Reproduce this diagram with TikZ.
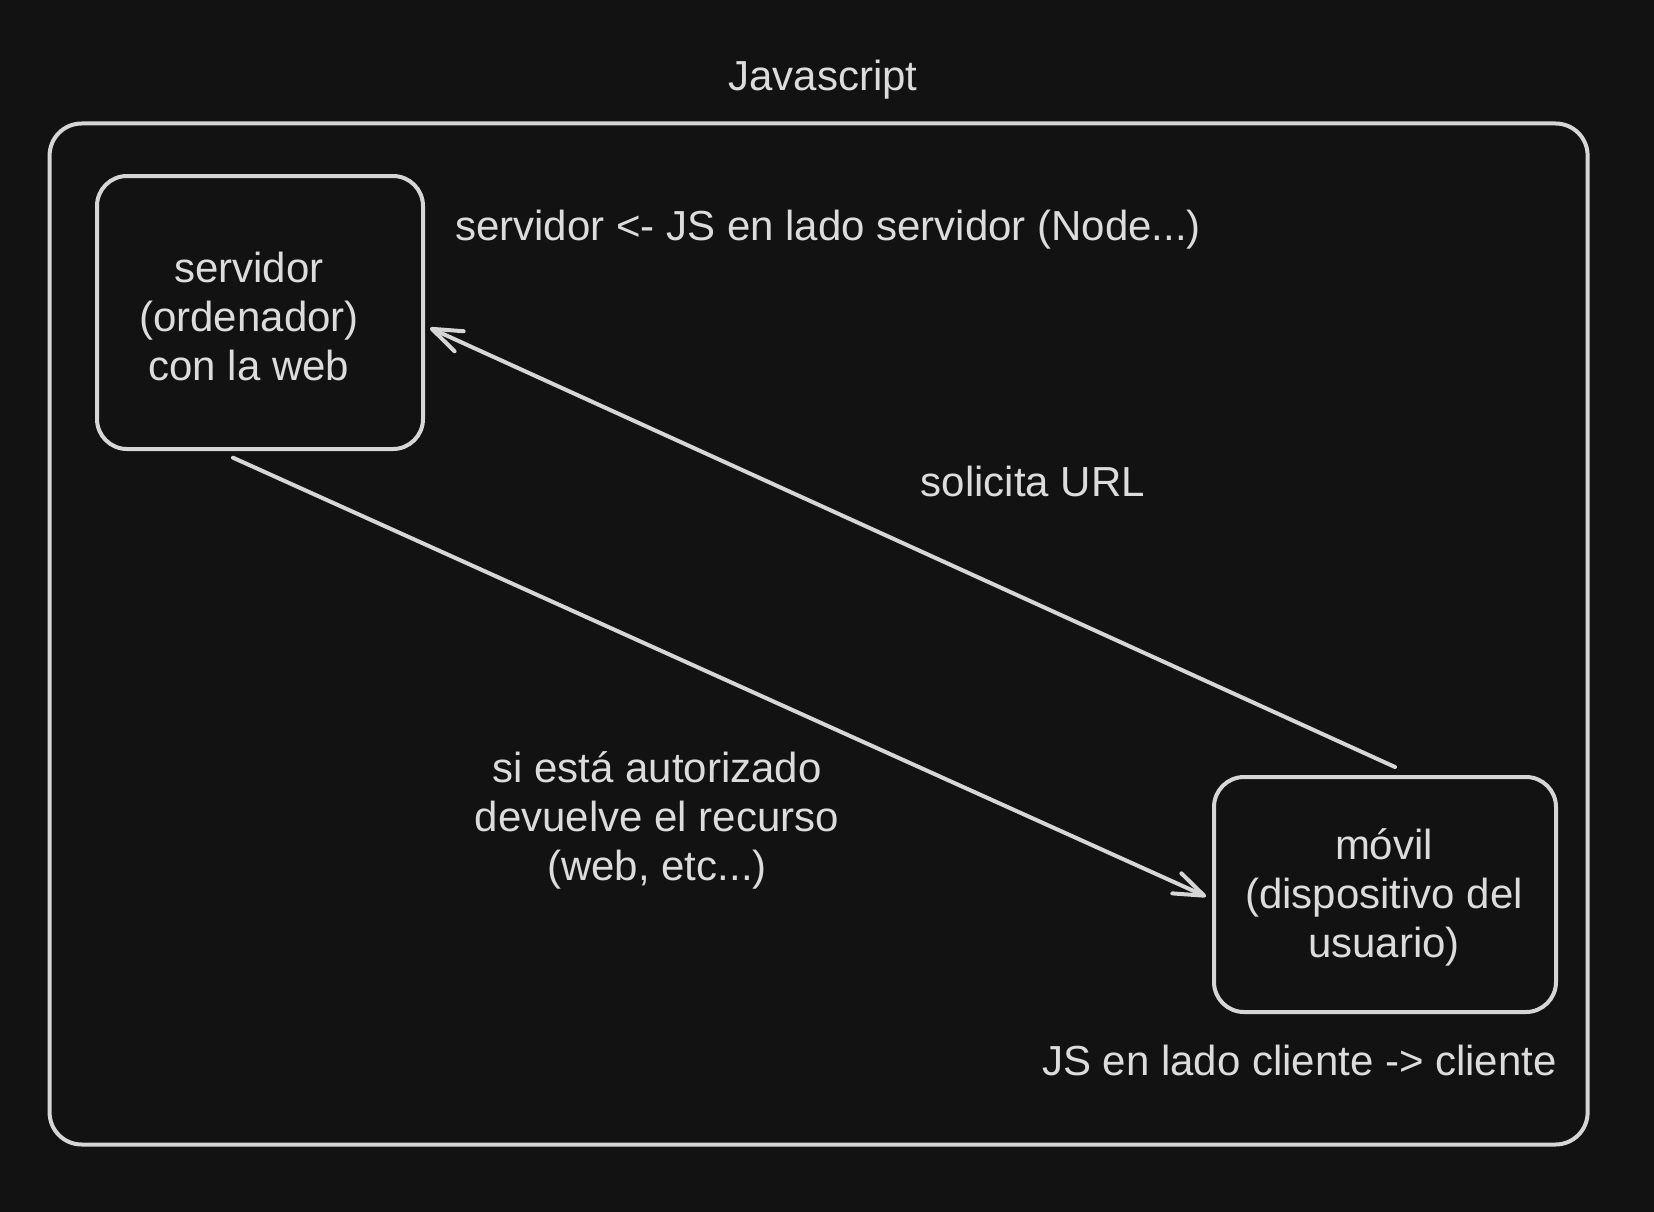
\documentclass[tikz,border=0pt]{standalone}
\usepackage{fontspec}
\setmainfont{Liberation Sans}
\usetikzlibrary{arrows.meta,calc}
\definecolor{bgc}{HTML}{121212}
\definecolor{fgc}{HTML}{D6D6D6}
\definecolor{txc}{HTML}{DCDCDC}
\tikzset{
  lbl/.style={text=txc, inner sep=0pt, align=center, font={\fontsize{42}{49}\selectfont}},
  boxn/.style={draw=fgc, line width=4pt, rounded corners=30pt, inner sep=0pt},
  conn/.style={draw=fgc, line width=4pt, line cap=round, -{Straight Barb[length=30pt,width=22pt,line width=4pt,round]}},
}
\begin{document}
\begin{tikzpicture}[x=1pt,y=-1pt]
\fill[bgc] (0,0) rectangle (1654,1212);
\useasboundingbox (0,0) rectangle (1654,1212);
\node[boxn, minimum width=1538pt, minimum height=1021pt, rounded corners=32pt] (frame) at (818.6,634) {};
\node[lbl] (title) at (823,80) {Javascript};
\node[boxn, minimum width=326pt, minimum height=273pt] (server) at (260,312.5) {};
\node[lbl] (servertext) at (249,316) {servidor\\(ordenador)\\con la web};
\node[boxn, minimum width=342pt, minimum height=235pt] (mobile) at (1385,894.5) {};
\node[lbl] (mobiletext) at (1384,897.5) {móvil\\(dispositivo del\\usuario)};
\node[lbl, anchor=west] (srvnote) at (455,230) {servidor <- JS en lado servidor (Node...)};
\node[lbl] (req) at (1033,481) {solicita URL};
\node[lbl] (resp) at (657,820) {si está autorizado\\devuelve el recurso\\(web, etc...)};
\node[lbl, anchor=east] (clinote) at (1557,1060) {JS en lado cliente -> cliente};
\draw[conn] ([xshift=10pt,yshift=8pt]mobile.north) -- ([xshift=5pt,yshift=-15.5pt]server.east);
\draw[conn] ([xshift=-27pt,yshift=-6.7pt]server.south) -- ([xshift=-6pt,yshift=-2pt]mobile.west);
\end{tikzpicture}
\end{document}
